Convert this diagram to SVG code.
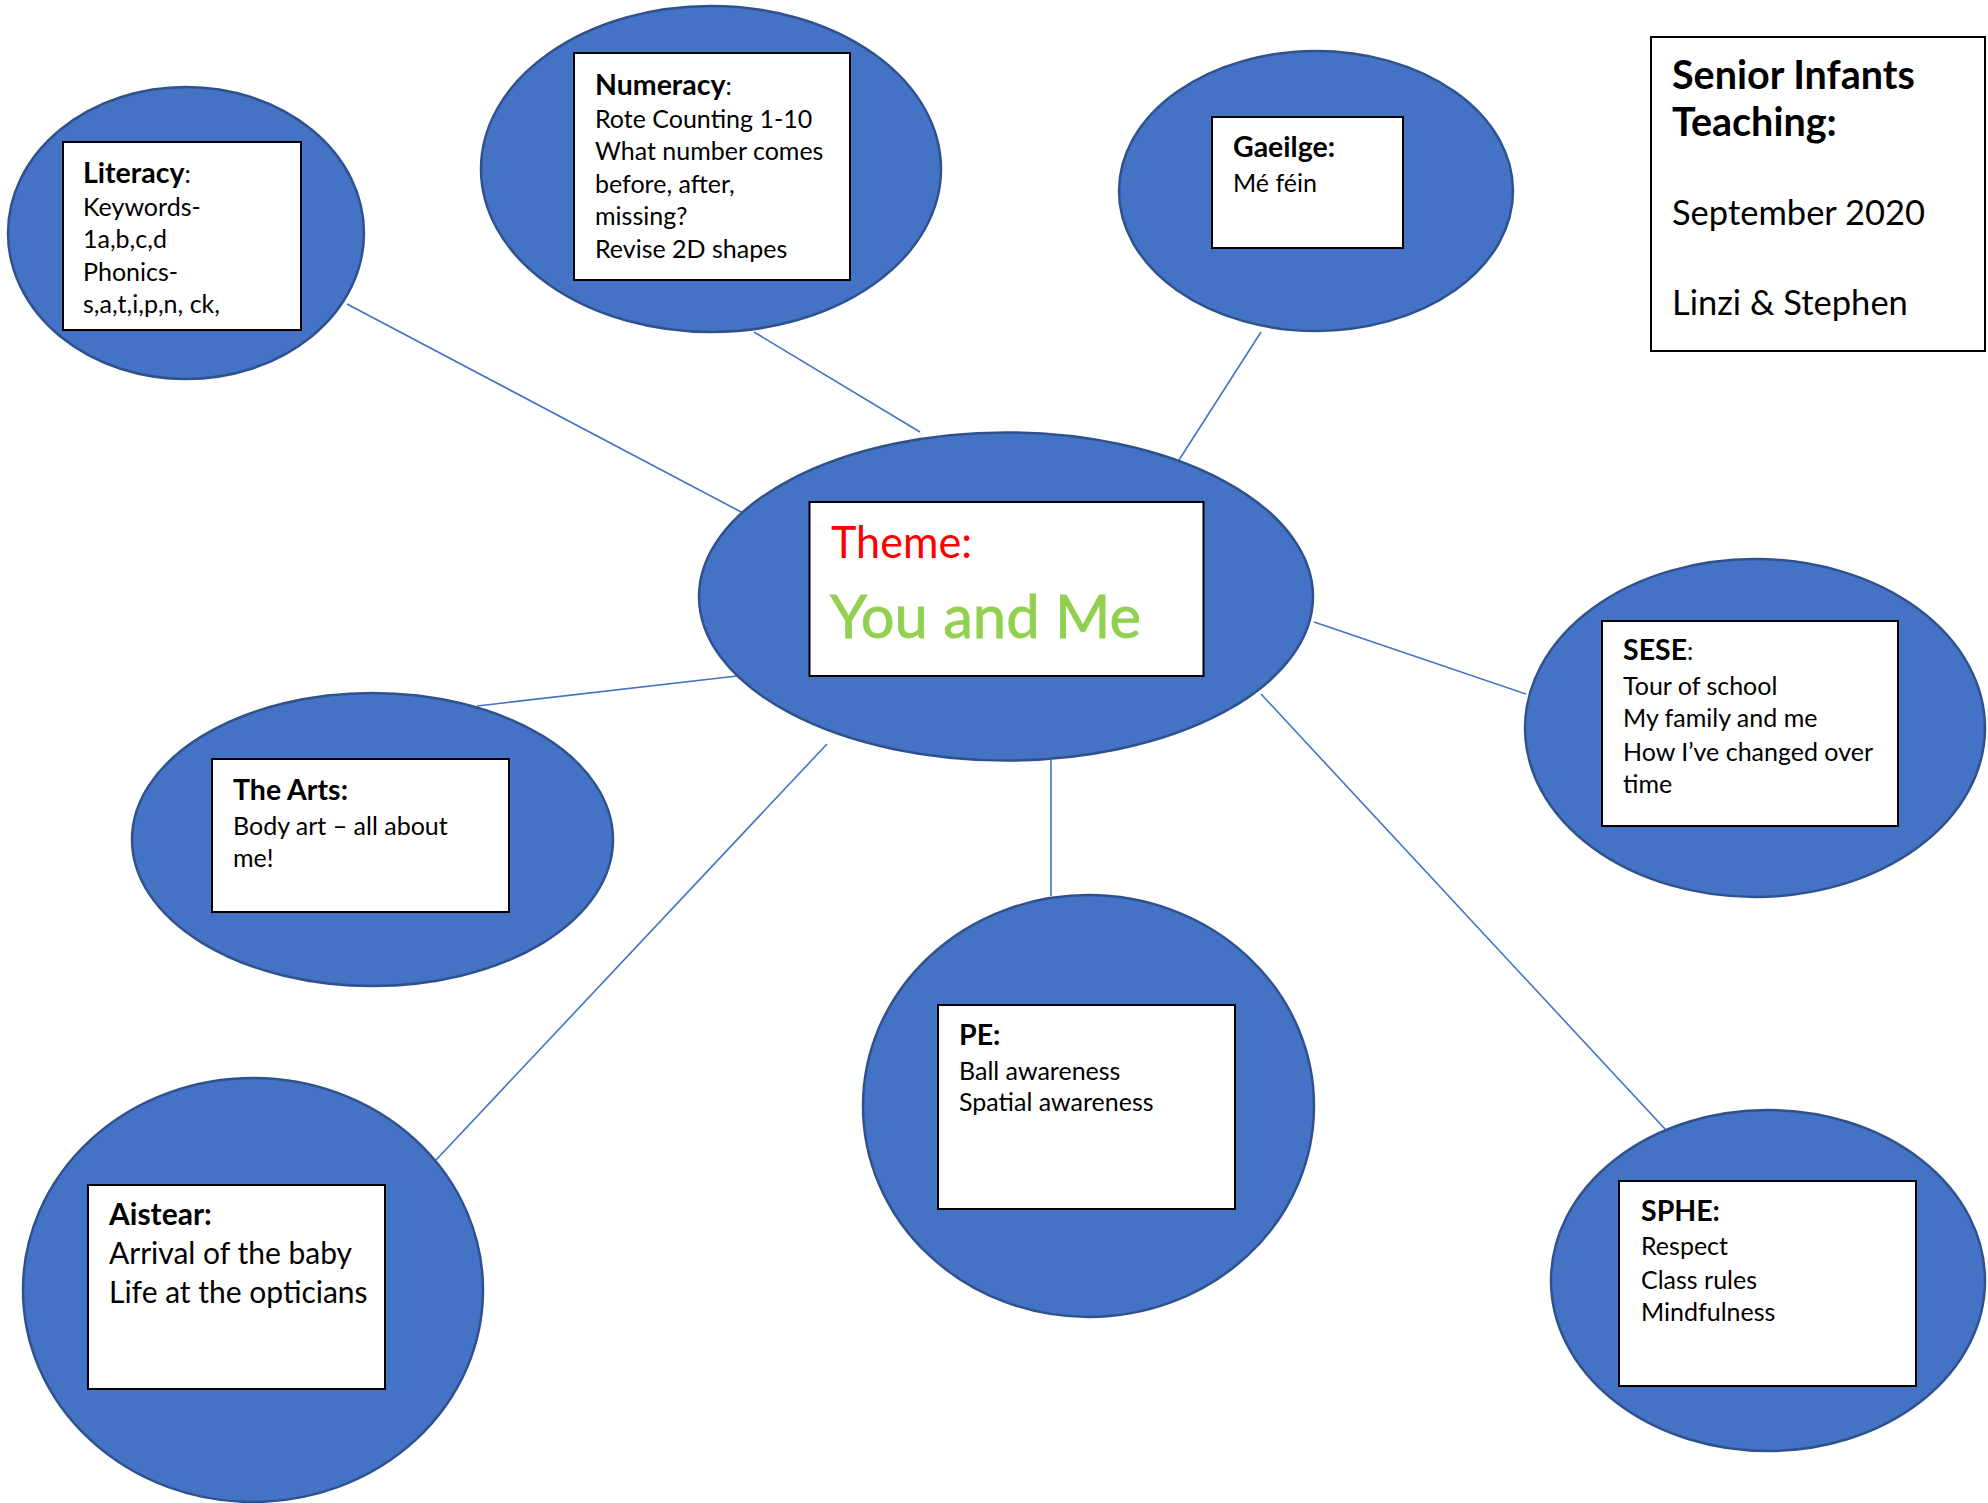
<svg xmlns="http://www.w3.org/2000/svg" width="1988" height="1503" viewBox="0 0 1988 1503">
<style>
.bg{fill:#ffffff}
.bubble{fill:#4472C4;stroke:#2F528F;stroke-width:2.5}
.box{fill:#ffffff;stroke:#000000;stroke-width:2}
.conn{stroke:#4472C4;stroke-width:1.6;fill:none}
.t{font-family:Lato,"Liberation Sans",sans-serif;font-size:25px;fill:#000000}
.h{font-size:28.5px}
.b{font-weight:bold}
.title{font-family:Lato,"Liberation Sans",sans-serif;font-size:34.5px;fill:#000000}
.th{font-size:39.5px;font-weight:bold}
.big{font-family:Lato,"Liberation Sans",sans-serif;font-size:30px;fill:#000000}
.theme{font-family:Lato,sans-serif;font-size:44px;fill:#FF0000}
.you{font-family:Lato,sans-serif;font-size:60px;fill:#92D050;stroke:#92D050;stroke-width:0.8}
</style>
<rect class="bg" x="0" y="0" width="1988" height="1503"/>
<g id="connectors">
<line class="conn" x1="347" y1="304" x2="743" y2="513"/>
<line class="conn" x1="754" y1="332" x2="920" y2="432"/>
<line class="conn" x1="1261" y1="332" x2="1179" y2="460"/>
<line class="conn" x1="1314" y1="622" x2="1526" y2="694"/>
<line class="conn" x1="477" y1="706" x2="737" y2="676"/>
<line class="conn" x1="827" y1="744" x2="436" y2="1160"/>
<line class="conn" x1="1051" y1="760" x2="1051" y2="896"/>
<line class="conn" x1="1261" y1="694" x2="1665" y2="1129"/>
</g>
<g id="literacy">
<ellipse class="bubble" cx="186" cy="233" rx="178" ry="146"/>
<rect class="box" x="63" y="142" width="238" height="188"/>
<text class="t" x="83" y="183"><tspan class="b h">Literacy</tspan>:</text>
<text class="t" x="83" y="216">Keywords-</text>
<text class="t" x="83" y="248">1a,b,c,d</text>
<text class="t" x="83" y="281">Phonics-</text>
<text class="t" x="83" y="313">s,a,t,i,p,n, ck,</text>
</g>
<g id="numeracy">
<ellipse class="bubble" cx="711" cy="169" rx="230" ry="163"/>
<rect class="box" x="574" y="53" width="276" height="227"/>
<text class="t" x="595" y="95"><tspan class="b h">Numeracy</tspan>:</text>
<text class="t" x="595" y="128">Rote Counting 1-10</text>
<text class="t" x="595" y="160">What number comes</text>
<text class="t" x="595" y="193">before, after,</text>
<text class="t" x="595" y="225">missing?</text>
<text class="t" x="595" y="258">Revise 2D shapes</text>
</g>
<g id="gaeilge">
<ellipse class="bubble" cx="1316" cy="191" rx="197" ry="140"/>
<rect class="box" x="1212" y="117" width="191" height="131"/>
<text class="t b h" x="1233" y="157">Gaeilge:</text>
<text class="t" x="1233" y="192">Mé féin</text>
</g>
<g id="title">
<rect class="box" x="1651" y="37" width="334" height="314"/>
<text class="title th" x="1672" y="89">Senior Infants</text>
<text class="title th" x="1672" y="136">Teaching:</text>
<text class="title" x="1672" y="225">September 2020</text>
<text class="title" x="1672" y="315">Linzi &amp; Stephen</text>
</g>
<g id="theme">
<ellipse class="bubble" cx="1006" cy="596.5" rx="307" ry="164"/>
<rect class="box" x="809.5" y="502" width="394" height="174"/>
<text class="theme" x="831" y="558" textLength="141" lengthAdjust="spacingAndGlyphs">Theme:</text>
<text class="you" x="830" y="638" textLength="311" lengthAdjust="spacingAndGlyphs">You and Me</text>
</g>
<g id="sese">
<ellipse class="bubble" cx="1755" cy="728" rx="230" ry="169"/>
<rect class="box" x="1602" y="621" width="296" height="205"/>
<text class="t" x="1623" y="660"><tspan class="b h">SESE</tspan>:</text>
<text class="t" x="1623" y="695">Tour of school</text>
<text class="t" x="1623" y="727">My family and me</text>
<text class="t" x="1623" y="761">How I’ve changed over</text>
<text class="t" x="1623" y="793">time</text>
</g>
<g id="arts">
<ellipse class="bubble" cx="372.5" cy="839.5" rx="240.5" ry="146.5"/>
<rect class="box" x="212" y="759" width="297" height="153"/>
<text class="t b h" x="233" y="800">The Arts:</text>
<text class="t" x="233" y="835">Body art – all about</text>
<text class="t" x="233" y="867">me!</text>
</g>
<g id="pe">
<ellipse class="bubble" cx="1088.5" cy="1106" rx="225.5" ry="211"/>
<rect class="box" x="938" y="1005" width="297" height="204"/>
<text class="t b h" x="959" y="1045">PE:</text>
<text class="t" x="959" y="1080">Ball awareness</text>
<text class="t" x="959" y="1111">Spatial awareness</text>
</g>
<g id="aistear">
<ellipse class="bubble" cx="253" cy="1290" rx="230" ry="212"/>
<rect class="box" x="88" y="1185" width="297" height="204"/>
<text class="big b" x="109" y="1225">Aistear:</text>
<text class="big" x="109" y="1264">Arrival of the baby</text>
<text class="big" x="109" y="1303">Life at the opticians</text>
</g>
<g id="sphe">
<ellipse class="bubble" cx="1768" cy="1280.5" rx="217" ry="170.5"/>
<rect class="box" x="1619" y="1181" width="297" height="205"/>
<text class="t b h" x="1641" y="1221">SPHE:</text>
<text class="t" x="1641" y="1255">Respect</text>
<text class="t" x="1641" y="1289">Class rules</text>
<text class="t" x="1641" y="1321">Mindfulness</text>
</g>
</svg>
